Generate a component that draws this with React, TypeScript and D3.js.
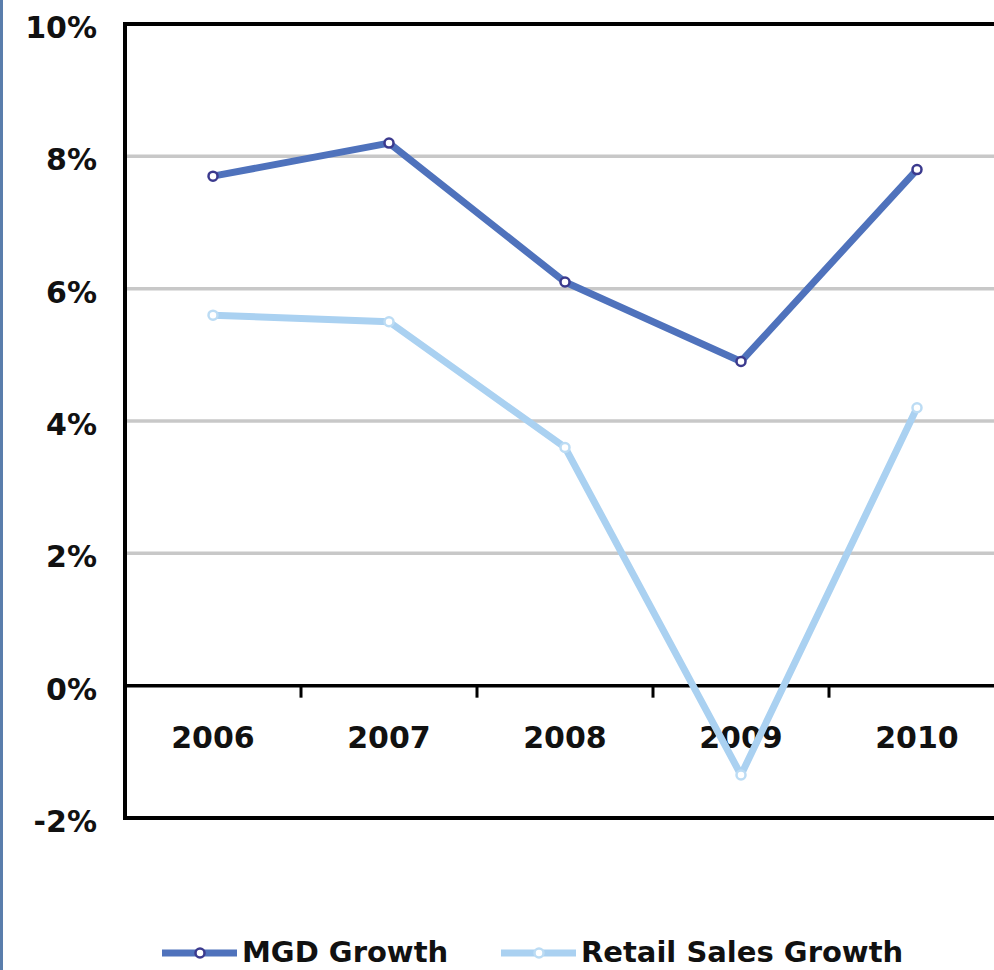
import React, { useEffect, useRef } from 'react';
import * as d3 from 'd3';

const years = ['2006', '2007', '2008', '2009', '2010'];
const mgdGrowth = [7.7, 8.2, 6.1, 4.9, 7.8];
const retailGrowth = [5.6, 5.5, 3.6, -1.35, 4.2];
const yTicks = [-2, 0, 2, 4, 6, 8, 10];

const series = [
  { name: 'MGD Growth', values: mgdGrowth, color: '#4f72bc', marker: '#3b3a8e' },
  { name: 'Retail Sales Growth', values: retailGrowth, color: '#aad1f1', marker: '#bcdcf4' },
];

const W = 994;
const H = 970;

const App: React.FC = () => {
  const svgRef = useRef<SVGSVGElement>(null);

  useEffect(() => {
    if (!svgRef.current) return;
    const svg = d3.select(svgRef.current);
    svg.selectAll('*').remove();

    const left = 125;
    const x = d3.scaleBand<string>().domain(years).range([left, left + 880]);
    const y = d3.scaleLinear().domain([-2, 10]).range([818, 24]);
    const font = "'DejaVu Sans', Verdana, sans-serif";

    // blue page edge
    svg.append('rect').attr('x', 0).attr('y', 0).attr('width', 3).attr('height', H).attr('fill', '#5a7eac');

    // gridlines
    svg.append('g').selectAll('line')
      .data(yTicks.filter(t => t > 0 && t < 10))
      .join('line')
      .attr('x1', left + 2).attr('x2', W)
      .attr('y1', d => y(d)).attr('y2', d => y(d))
      .attr('stroke', '#c8c8c8').attr('stroke-width', 3.5);

    // frame
    const frame = svg.append('g').attr('stroke', '#000').attr('stroke-width', 4);
    frame.append('line').attr('x1', left).attr('x2', left).attr('y1', y(10) - 2).attr('y2', y(-2) + 2);
    frame.append('line').attr('x1', left - 2).attr('x2', W).attr('y1', y(10)).attr('y2', y(10));
    frame.append('line').attr('x1', left - 2).attr('x2', W).attr('y1', y(-2)).attr('y2', y(-2));
    frame.append('line').attr('x1', left).attr('x2', W).attr('y1', y(0)).attr('y2', y(0)).attr('stroke-width', 3.5);

    // ticks between categories
    svg.append('g').selectAll('line')
      .data(years.slice(1))
      .join('line')
      .attr('x1', d => x(d)!).attr('x2', d => x(d)!)
      .attr('y1', y(0)).attr('y2', y(0) + 12)
      .attr('stroke', '#000').attr('stroke-width', 3);

    // y labels
    svg.append('g').selectAll('text')
      .data(yTicks)
      .join('text')
      .attr('x', 97)
      .attr('y', d => y(d) + 14)
      .attr('text-anchor', 'end')
      .attr('font-family', font).attr('font-weight', 'bold').attr('font-size', 30)
      .attr('fill', '#111')
      .text(d => `${d}%`);

    // x labels
    svg.append('g').selectAll('text')
      .data(years)
      .join('text')
      .attr('x', d => x(d)! + x.bandwidth() / 2)
      .attr('y', 748)
      .attr('text-anchor', 'middle')
      .attr('font-family', font).attr('font-weight', 'bold').attr('font-size', 30)
      .attr('fill', '#111')
      .text(d => d);

    const line = d3.line<number>()
      .x((_, i) => x(years[i])! + x.bandwidth() / 2)
      .y(d => y(d));

    series.slice().reverse().forEach(s => {
      svg.append('path')
        .datum(s.values)
        .attr('d', line)
        .attr('fill', 'none')
        .attr('stroke', s.color)
        .attr('stroke-width', 7)
        .attr('stroke-linejoin', 'round');
      svg.append('g').selectAll('circle')
        .data(s.values)
        .join('circle')
        .attr('cx', (_, i) => x(years[i])! + x.bandwidth() / 2)
        .attr('cy', d => y(d))
        .attr('r', 4.5)
        .attr('fill', '#fff')
        .attr('stroke', s.marker)
        .attr('stroke-width', 2.5);
    });

    // legend
    const legendX = [162, 501];
    series.forEach((s, i) => {
      const g = svg.append('g').attr('transform', `translate(${legendX[i]},953)`);
      g.append('line').attr('x1', 0).attr('x2', 75).attr('y1', 0).attr('y2', 0)
        .attr('stroke', s.color).attr('stroke-width', 7);
      g.append('circle').attr('cx', 38).attr('cy', 0).attr('r', 4.5)
        .attr('fill', '#fff').attr('stroke', s.marker).attr('stroke-width', 2.5);
      g.append('text').attr('x', 80).attr('y', 9)
        .attr('font-family', font).attr('font-weight', 'bold').attr('font-size', 29)
        .attr('fill', '#111')
        .text(s.name);
    });
  }, []);

  return (
    <div style={{ position: 'absolute', left: 0, top: 0, width: W, height: H, background: '#fff' }}>
      <svg ref={svgRef} width={W} height={H}></svg>
    </div>
  );
};

export default App;
